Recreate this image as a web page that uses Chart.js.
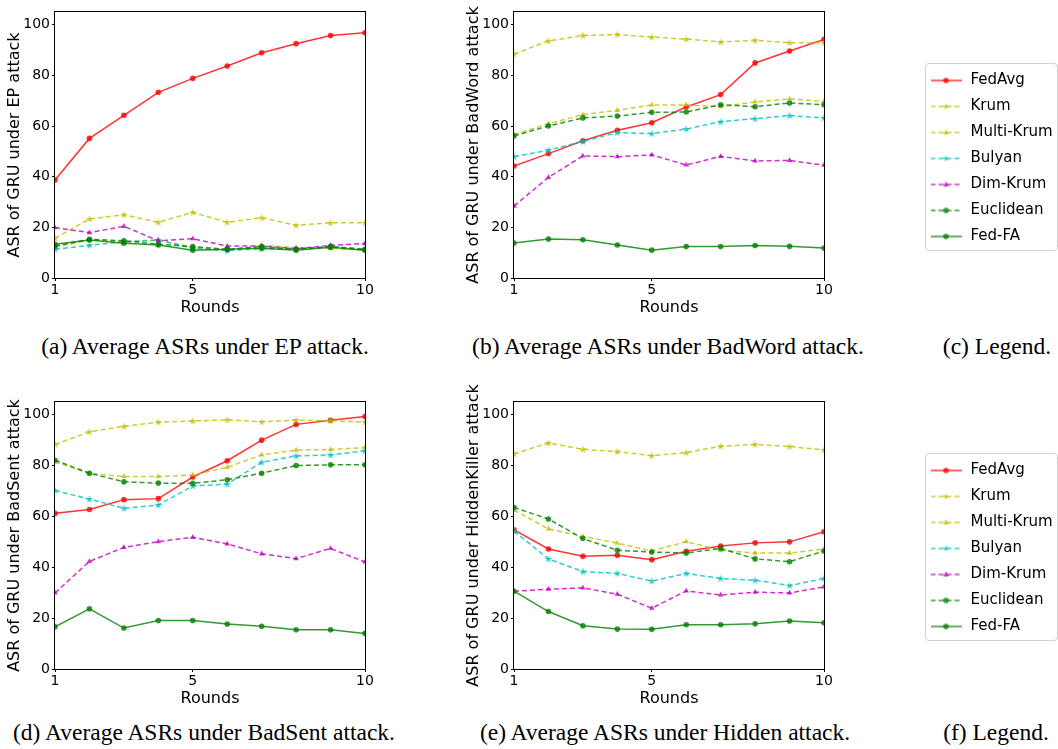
<!DOCTYPE html>
<html>
<head>
<meta charset="utf-8">
<script src="https://cdn.jsdelivr.net/npm/chart.js@4.4.0/dist/chart.umd.min.js"></script>
<style>
  body { margin: 0; background: #fff; width: 1058px; height: 749px; position: relative; overflow: hidden; }
  canvas { position: absolute; }
  .cap { position: absolute; font-family: "Liberation Serif", "Times New Roman", serif; font-size: 23.5px;
         line-height: 24px; color: #000; white-space: nowrap; transform: translateX(-50%); }
  .legbox { position: absolute; border: 1px solid #d0d0d0; border-radius: 4px; box-sizing: border-box; }
</style>
</head>
<body>

<canvas id="cEP" width="380" height="318" style="left:0;top:0"></canvas>
<canvas id="cBW" width="380" height="318" style="left:459px;top:0"></canvas>
<canvas id="cBS" width="380" height="329" style="left:0;top:380px"></canvas>
<canvas id="cHK" width="380" height="329" style="left:459px;top:380px"></canvas>

<div class="legbox" style="left:925px;top:63px;width:133px;height:188px">
  <canvas id="legC" width="140" height="205" style="left:-8px;top:-2px"></canvas>
</div>
<div class="legbox" style="left:925px;top:453px;width:133px;height:188px">
  <canvas id="legF" width="140" height="205" style="left:-8px;top:-2px"></canvas>
</div>

<div class="cap" style="left:205px;top:334px">(a) Average ASRs under EP attack.</div>
<div class="cap" style="left:668px;top:334px">(b) Average ASRs under BadWord attack.</div>
<div class="cap" style="left:997px;top:334px">(c) Legend.</div>
<div class="cap" style="left:204px;top:720px">(d) Average ASRs under BadSent attack.</div>
<div class="cap" style="left:665px;top:720px">(e) Average ASRs under Hidden attack.</div>
<div class="cap" style="left:996px;top:720px">(f) Legend.</div>

<script>
// ---- data ----
const rounds = [1, 2, 3, 4, 5, 6, 7, 8, 9, 10];
const xTicks = [1, 5, 10];
const yTicks = [0, 20, 40, 60, 80, 100];
const methods = ['FedAvg', 'Krum', 'Multi-Krum', 'Bulyan', 'Dim-Krum', 'Euclidean', 'Fed-FA'];

// one row per method, same order as methods
const asrEP = [
  [38.7, 55.1, 64.2, 73.3, 78.8, 83.7, 88.9, 92.5, 95.7, 96.8],
  [15.7, 23.3, 25.0, 22.0, 25.9, 22.0, 23.8, 20.8, 21.8, 21.8],
  [12.1, 15.0, 14.2, 15.0, 12.1, 10.8, 12.9, 12.0, 11.7, 11.0],
  [11.3, 12.9, 14.3, 15.0, 11.7, 10.8, 11.6, 11.5, 12.4, 11.3],
  [19.9, 17.9, 20.4, 14.7, 15.5, 12.6, 12.6, 11.6, 12.9, 13.6],
  [12.6, 15.3, 14.7, 13.3, 12.4, 11.3, 12.4, 11.3, 12.4, 11.3],
  [13.3, 15.0, 13.7, 13.0, 11.0, 11.3, 11.7, 11.0, 12.1, 11.0]
];
const asrBadWord = [
  [44.2, 49.1, 54.2, 58.3, 61.3, 67.5, 72.4, 84.9, 89.6, 94.2],
  [88.4, 93.6, 95.7, 96.1, 95.1, 94.3, 93.2, 93.8, 92.9, 92.9],
  [56.6, 60.9, 64.5, 66.2, 68.3, 68.3, 67.6, 69.5, 70.7, 69.7],
  [47.9, 50.5, 53.9, 57.4, 57.0, 58.8, 61.7, 62.9, 64.1, 63.2],
  [28.4, 39.7, 48.2, 47.9, 48.6, 44.6, 48.0, 46.2, 46.4, 44.5],
  [56.1, 60.0, 63.2, 63.9, 65.4, 65.5, 68.4, 67.6, 69.1, 68.4],
  [13.8, 15.4, 15.1, 13.0, 11.0, 12.4, 12.4, 12.8, 12.5, 11.8]
];
const asrBadSent = [
  [61.2, 62.7, 66.6, 67.0, 75.5, 81.9, 90.0, 96.2, 97.8, 99.3],
  [88.3, 93.3, 95.4, 97.1, 97.5, 98.0, 97.2, 97.9, 97.6, 97.1],
  [81.4, 76.9, 75.7, 75.7, 76.3, 79.3, 84.2, 86.1, 86.3, 87.1],
  [70.2, 66.8, 63.2, 64.5, 72.0, 72.7, 81.3, 83.8, 84.2, 85.8],
  [29.9, 42.3, 47.8, 50.1, 51.8, 49.2, 45.3, 43.4, 47.4, 42.1],
  [82.1, 77.0, 73.6, 73.1, 73.0, 74.4, 77.0, 80.0, 80.3, 80.3],
  [16.6, 23.7, 16.1, 19.1, 19.1, 17.7, 16.8, 15.4, 15.4, 14.0]
];
const asrHidden = [
  [54.7, 47.2, 44.3, 44.7, 43.0, 46.3, 48.4, 49.6, 50.0, 54.0],
  [84.6, 88.9, 86.4, 85.5, 83.9, 85.1, 87.6, 88.3, 87.5, 86.1],
  [62.5, 55.1, 52.2, 49.5, 46.4, 50.1, 46.7, 45.6, 45.6, 47.2],
  [54.2, 43.3, 38.3, 37.6, 34.6, 37.6, 35.6, 34.9, 32.8, 35.6],
  [30.6, 31.4, 31.9, 29.4, 23.9, 30.7, 29.1, 30.2, 29.9, 32.3],
  [63.5, 59.0, 51.3, 46.7, 46.0, 45.6, 47.4, 43.3, 42.2, 46.4],
  [30.6, 22.6, 17.0, 15.7, 15.6, 17.4, 17.4, 17.8, 18.9, 18.2]
];

// ---- styles ----
const colors = ['rgba(255,0,0,0.8)', 'rgba(191,191,0,0.8)', 'rgba(191,191,0,0.8)', 'rgba(0,191,191,0.8)',
                'rgba(191,0,191,0.8)', 'rgba(0,128,0,0.8)', 'rgba(0,128,0,0.8)'];
const markers = ['circle', 'star', 'triangle', 'star', 'triangle', 'circle', 'circle'];
const dashes = [[], [5, 3], [5, 3], [5, 3], [5, 3], [5, 3], []];

Chart.defaults.font.family = '"DejaVu Sans", sans-serif';
Chart.defaults.color = '#000';

function drawMarker(g, kind, cx, cy, r, color) {
  g.fillStyle = color;
  g.beginPath();
  if (kind === 'circle') {
    g.arc(cx, cy, r, 0, Math.PI * 2);
  } else if (kind === 'triangle') {
    g.moveTo(cx, cy - r * 1.15);
    g.lineTo(cx + r, cy + r * 0.75);
    g.lineTo(cx - r, cy + r * 0.75);
    g.closePath();
  } else {
    for (let i = 0; i < 10; i++) {
      const rr = i % 2 ? r * 0.45 : r * 1.3;
      const a = -Math.PI / 2 + i * Math.PI / 5;
      const px = cx + rr * Math.cos(a), py = cy + rr * Math.sin(a);
      i ? g.lineTo(px, py) : g.moveTo(px, py);
    }
    g.closePath();
  }
  g.fill();
}

function starImage(color) {
  const c = document.createElement('canvas');
  c.width = 10; c.height = 10;
  drawMarker(c.getContext('2d'), 'star', 5, 5.3, 3.3, color);
  return c;
}

function legendSample(i) {
  const c = document.createElement('canvas');
  c.width = 31; c.height = 10;
  const g = c.getContext('2d');
  g.strokeStyle = colors[i];
  g.lineWidth = 1.5;
  g.setLineDash(dashes[i]);
  g.beginPath(); g.moveTo(0, 5); g.lineTo(31, 5); g.stroke();
  drawMarker(g, markers[i], 15.5, 5, 2.8, colors[i]);
  return c;
}

const frame = {
  id: 'frame',
  afterDraw(chart) {
    const a = chart.chartArea, g = chart.ctx;
    g.save();
    g.strokeStyle = '#000';
    g.lineWidth = 1;
    g.strokeRect(a.left - 0.5, a.top - 0.5, a.right - a.left + 1, a.bottom - a.top + 1);
    g.restore();
  }
};

function buildDatasets(rows) {
  return rows.map((vals, i) => ({
    label: methods[i],
    data: rounds.map((r, k) => ({ x: r, y: vals[k] })),
    borderColor: colors[i],
    backgroundColor: colors[i],
    borderWidth: 1.5,
    borderDash: dashes[i],
    pointStyle: markers[i] === 'star' ? starImage(colors[i]) : markers[i],
    pointRadius: markers[i] === 'triangle' ? 3.2 : 2.8,
    pointBorderWidth: 0,
    pointBackgroundColor: colors[i],
    tension: 0,
    order: rows.length - i
  }));
}

function makeChart(id, rows, yLabel, padTop) {
  new Chart(document.getElementById(id), {
    type: 'line',
    data: { datasets: buildDatasets(rows) },
    options: {
      responsive: false,
      animation: false,
      layout: { padding: { top: padTop, right: 15, left: 0, bottom: 0 } },
      plugins: { legend: { display: false }, tooltip: { enabled: false } },
      scales: {
        x: {
          type: 'linear', min: 1, max: 10,
          afterBuildTicks: s => { s.ticks = xTicks.map(v => ({ value: v })); },
          afterFit: s => { s.height = 40; },
          grid: { drawOnChartArea: false, tickLength: 3, color: '#000' },
          border: { display: false },
          ticks: { font: { size: 14 }, padding: 1, maxRotation: 0 },
          title: { display: true, text: 'Rounds', font: { size: 16 }, padding: { top: 0, bottom: 1 } }
        },
        y: {
          min: 0, max: 105,
          afterBuildTicks: s => { s.ticks = yTicks.map(v => ({ value: v })); },
          afterFit: s => { s.width = 55; },
          grid: { drawOnChartArea: false, tickLength: 3, color: '#000' },
          border: { display: false },
          ticks: { font: { size: 14 }, padding: 2 },
          title: { display: true, text: yLabel, font: { size: 16 }, padding: { top: 5.4, bottom: 0 } }
        }
      }
    },
    plugins: [frame]
  });
}

makeChart('cEP', asrEP, 'ASR of GRU under EP attack', 12);
makeChart('cBW', asrBadWord, 'ASR of GRU under BadWord attack', 12);
makeChart('cBS', asrBadSent, 'ASR of GRU under BadSent attack', 22);
makeChart('cHK', asrHidden, 'ASR of GRU under HiddenKiller attack', 22);

function makeLegend(id) {
  new Chart(document.getElementById(id), {
    type: 'line',
    data: { datasets: methods.map(m => ({ label: m, data: [] })) },
    options: {
      responsive: false,
      animation: false,
      layout: { padding: 0 },
      scales: { x: { display: false }, y: { display: false } },
      plugins: {
        tooltip: { enabled: false },
        legend: {
          position: 'left', align: 'start',
          maxWidth: 200,
          onClick: null,
          labels: {
            usePointStyle: true,
            pointStyleWidth: 34,
            padding: 11,
            font: { size: 15 },
            color: '#000',
            generateLabels: () => methods.map((m, i) => ({
              text: m, pointStyle: legendSample(i), fillStyle: colors[i], strokeStyle: colors[i],
              lineWidth: 0, hidden: false, datasetIndex: i, fontColor: '#000'
            }))
          }
        }
      }
    }
  });
}
makeLegend('legC');
makeLegend('legF');
</script>
</body>
</html>
